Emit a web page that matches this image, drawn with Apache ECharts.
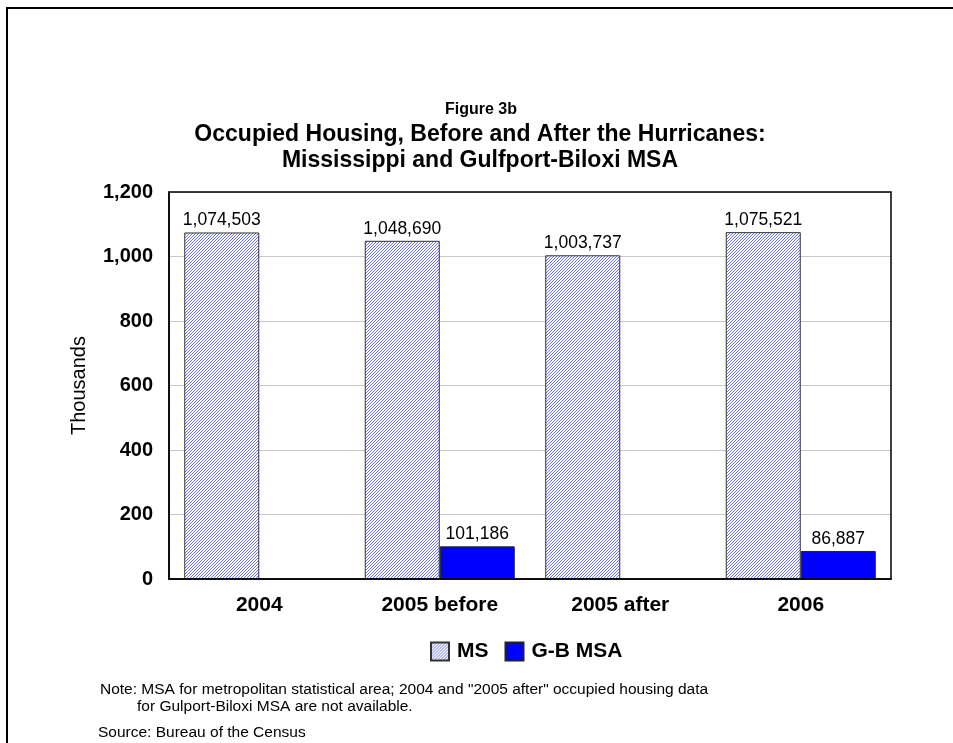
<!DOCTYPE html>
<html lang="en">
<head>
    <meta charset="UTF-8">
    <title>Figure 3b</title>
    <script src="https://cdn.jsdelivr.net/npm/echarts@6/dist/echarts.min.js"></script>
    <style>
        body { margin: 0; background: #fff; }
        #main { width: 953px; height: 743px; }
    </style>
</head>
<body>
<div id="main"></div>
<script>
    // categories and values (housing units)
    var categories = ['2004', '2005 before', '2005 after', '2006'];
    var msValues = [1074503, 1048690, 1003737, 1075521];
    var gbValues = [null, 101186, null, 86887];
    var yTicks = [0, 200, 400, 600, 800, 1000, 1200];

    // hatch pattern for the MS bars: crisp pixel diagonals
    function makeHatch() {
        var c = document.createElement('canvas');
        c.width = 3;
        c.height = 3;
        var ctx = c.getContext('2d');
        ctx.fillStyle = '#ffffff';
        ctx.fillRect(0, 0, 3, 3);
        ctx.fillStyle = '#6e78ee';
        for (var i = 0; i < 3; i++) {
            ctx.fillRect(2 - i, i, 1, 1);
        }
        return c;
    }
    var hatch = { image: makeHatch(), repeat: 'repeat' };

    function fmt(v) {
        return v == null ? '' : v.toLocaleString('en-US');
    }

    var font = 'Liberation Sans, Arial, sans-serif';
    var myChart = echarts.init(document.getElementById('main'));
    var option = {
        backgroundColor: '#fff',
        textStyle: { fontFamily: font },
        title: [
            {
                text: 'Figure 3b',
                left: 476, top: 97, textAlign: 'center',
                textStyle: { fontSize: 16, fontWeight: 'bold', color: '#000', fontFamily: font }
            },
            {
                text: 'Occupied Housing, Before and After the Hurricanes:\nMississippi and Gulfport-Biloxi MSA',
                left: 475, top: 117, textAlign: 'center',
                textStyle: { fontSize: 23, fontWeight: 'bold', color: '#000', lineHeight: 26, fontFamily: font }
            }
        ],
        legend: {
            data: ['MS', 'G-B MSA'],
            left: 425, top: 636,
            itemWidth: 18, itemHeight: 18, itemGap: 16,
            icon: 'rect',
            textStyle: { fontSize: 21, fontWeight: 'bold', color: '#000', fontFamily: font, padding: [0, 0, 0, 3] }
        },
        grid: { left: 169, top: 192, right: 62, bottom: 164 },
        xAxis: {
            type: 'category',
            data: categories,
            axisTick: { show: false },
            axisLine: { lineStyle: { color: '#000', width: 1.5 } },
            axisLabel: { fontSize: 21, fontWeight: 'bold', color: '#000', margin: 16, fontFamily: font }
        },
        yAxis: {
            type: 'value',
            min: yTicks[0], max: yTicks[yTicks.length - 1], interval: 200,
            name: 'Thousands',
            nameLocation: 'middle', nameGap: 80, nameRotate: 90,
            nameTextStyle: { fontSize: 20, color: '#000', fontFamily: font },
            axisLine: { show: true, lineStyle: { color: '#000', width: 1.5 } },
            axisTick: { show: false },
            axisLabel: {
                fontSize: 20, fontWeight: 'bold', color: '#000', margin: 16, fontFamily: font,
                formatter: function (v) { return v.toLocaleString('en-US'); }
            },
            splitLine: { lineStyle: { color: '#c8c8c8' } }
        },
        graphic: [
            {
                type: 'rect', shape: { x: 7, y: 8, width: 1000, height: 800 },
                style: { fill: 'none', stroke: '#000', lineWidth: 2 }, silent: true
            },
            {
                type: 'rect', shape: { x: 169, y: 192, width: 722, height: 387 },
                style: { fill: 'none', stroke: '#000', lineWidth: 1.5 }, silent: true, z: 10
            },
            {
                type: 'text', left: 100, top: 682,
                style: {
                    text: 'Note: MSA for metropolitan statistical area; 2004 and "2005 after" occupied housing data',
                    fontSize: 15.5, fill: '#000', fontFamily: font
                }
            },
            {
                type: 'text', left: 137, top: 699,
                style: { text: 'for Gulport-Biloxi MSA are not available.', fontSize: 15.5, fill: '#000', fontFamily: font }
            },
            {
                type: 'text', left: 98, top: 725,
                style: { text: 'Source: Bureau of the Census', fontSize: 15.5, fill: '#000', fontFamily: font }
            }
        ],
        series: [
            {
                name: 'MS',
                type: 'bar',
                barWidth: 75,
                barGap: '0%',
                data: msValues.map(function (v) { return v / 1000; }),
                itemStyle: { color: hatch, borderColor: '#333', borderWidth: 1 },
                label: {
                    show: true, position: 'top', distance: 3,
                    fontSize: 17.5, color: '#000', fontFamily: font,
                    formatter: function (p) { return fmt(msValues[p.dataIndex]); }
                }
            },
            {
                name: 'G-B MSA',
                type: 'bar',
                barWidth: 75,
                data: gbValues.map(function (v) { return v == null ? null : v / 1000; }),
                itemStyle: { color: '#0000ff', borderColor: '#222', borderWidth: 1 },
                label: {
                    show: true, position: 'top', distance: 3,
                    fontSize: 17.5, color: '#000', fontFamily: font,
                    formatter: function (p) { return fmt(gbValues[p.dataIndex]); }
                }
            }
        ]
    };
    myChart.setOption(option);
</script>
</body>
</html>
